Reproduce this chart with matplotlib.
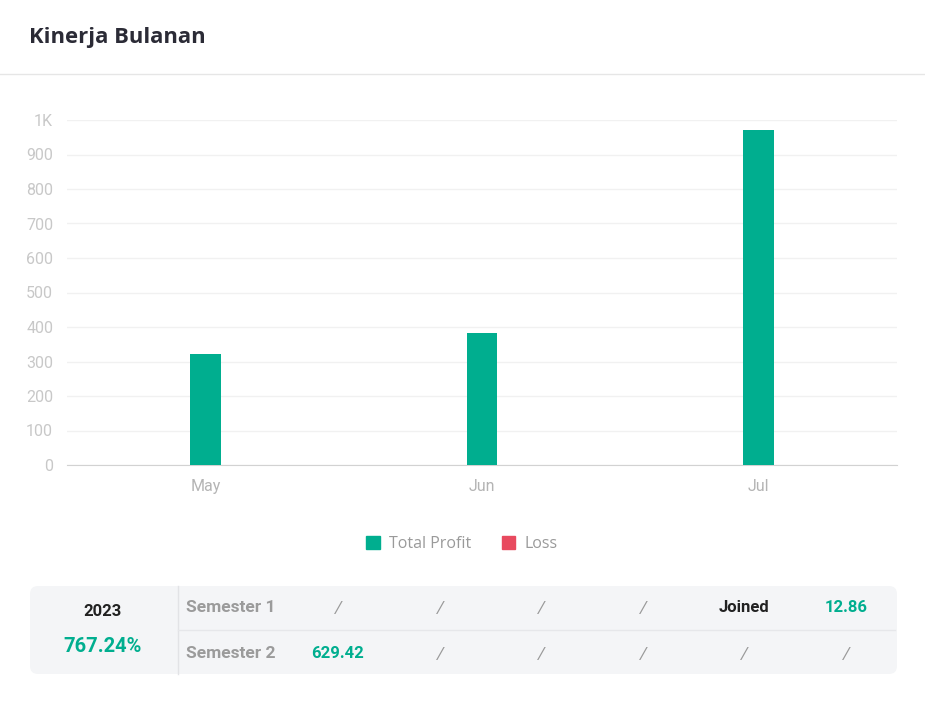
import matplotlib
matplotlib.use("Agg")
import matplotlib.pyplot as plt
from matplotlib.patches import FancyBboxPatch, Patch

# ------------------------------------------------------------
# data
# ------------------------------------------------------------
months = ["May", "Jun", "Jul"]
profit = [322, 383, 971]
loss = [0, 0, 0]
y_ticks = [0, 100, 200, 300, 400, 500, 600, 700, 800, 900, 1000]
y_labels = ["0", "100", "200", "300", "400", "500", "600", "700", "800", "900", "1K"]

year = "2023"
year_pct = "767.24%"
row_names = ["Semester 1", "Semester 2"]
sem1 = ["/", "/", "/", "/", "Joined", "12.86"]
sem2 = ["629.42", "/", "/", "/", "/", "/"]

TEAL = "#00ae8f"
RED = "#e84a5f"

W, H = 925, 703
fig = plt.figure(figsize=(W / 100, H / 100), dpi=100)

# overlay in pixel coords for header / legend / summary table
bg = fig.add_axes([0, 0, 1, 1], zorder=0)
bg.set_xlim(0, W)
bg.set_ylim(H, 0)
bg.axis("off")

bg.text(29, 38, "Kinerja Bulanan", fontsize=15.8, fontweight="bold",
        family="Open Sans", color="#2b2b36", va="center", ha="left")
bg.plot([0, W], [74, 74], color="#e6e6e6", lw=1)

# ------------------------------------------------------------
# bar chart
# ------------------------------------------------------------
ax = fig.add_axes([67 / W, 1 - 465 / H, (897 - 67) / W, (465 - 120) / H], zorder=1)
x = range(len(months))
ax.bar(x, profit, width=0.11, color=TEAL, zorder=3)
ax.bar(x, loss, width=0.11, bottom=profit, color=RED, zorder=3)
ax.set_xlim(-0.5, len(months) - 0.5)
ax.set_ylim(0, 1000)
ax.set_yticks(y_ticks)
ax.set_yticklabels(y_labels)
ax.set_xticks(list(x))
ax.set_xticklabels(months)
ax.tick_params(axis="y", length=0, pad=10, labelsize=11.5, labelcolor="#c8c8c8")
ax.tick_params(axis="x", length=0, pad=10, labelsize=11.5, labelcolor="#b4b4b4")
for lab in ax.get_yticklabels() + ax.get_xticklabels():
    lab.set_family("Roboto")
ax.grid(axis="y", color="#f1f1f1", lw=1, zorder=0)
for s in ["top", "right", "left"]:
    ax.spines[s].set_visible(False)
ax.spines["bottom"].set_color("#d2d2d2")
ax.set_facecolor("none")

handles = [Patch(color=TEAL, label="Total Profit"), Patch(color=RED, label="Loss")]
leg = fig.legend(handles=handles, loc="center", bbox_to_anchor=(462 / W, 1 - 544 / H),
                 ncol=2, frameon=False, handlelength=0.85, handleheight=0.85,
                 handletextpad=0.6, columnspacing=1.9,
                 prop={"family": "Open Sans", "size": 11.5})
for t in leg.get_texts():
    t.set_color("#9a9a9a")

# ------------------------------------------------------------
# summary table
# ------------------------------------------------------------
box = FancyBboxPatch((30, 586), 867, 88, boxstyle="round,pad=0,rounding_size=8",
                     facecolor="#f4f5f7", edgecolor="none", zorder=1)
bg.add_patch(box)
bg.plot([178, 178], [586, 674], color="#e2e3e6", lw=1, zorder=2)
bg.plot([178, 895], [630, 630], color="#e6e7ea", lw=1, zorder=2)

bg.text(103, 611, year, fontsize=12, fontweight="bold", family="Roboto",
        color="#222222", ha="center", va="center", zorder=3)
bg.text(103, 646, year_pct, fontsize=14.5, fontweight="bold", family="Roboto",
        color=TEAL, ha="center", va="center", zorder=3)

col_x = [338, 440, 541, 643, 744, 846]
for row_y, name, vals in zip([608, 654], row_names, [sem1, sem2]):
    bg.text(186, row_y, name, fontsize=12.5, fontweight="bold", family="Roboto",
            color="#9b9b9b", ha="left", va="center", zorder=3)
    for cx, v in zip(col_x, vals):
        if v == "/":
            bg.text(cx, row_y, v, fontsize=12.5, family="Roboto", style="italic",
                    color="#9a9a9a", ha="center", va="center", zorder=3)
        elif v == "Joined":
            bg.text(cx, row_y, v, fontsize=12, fontweight="bold", family="Roboto",
                    color="#222222", ha="center", va="center", zorder=3)
        else:
            bg.text(cx, row_y, v, fontsize=12, fontweight="bold", family="Roboto",
                    color=TEAL, ha="center", va="center", zorder=3)

fig.savefig("out.png", dpi=100, facecolor="white")
